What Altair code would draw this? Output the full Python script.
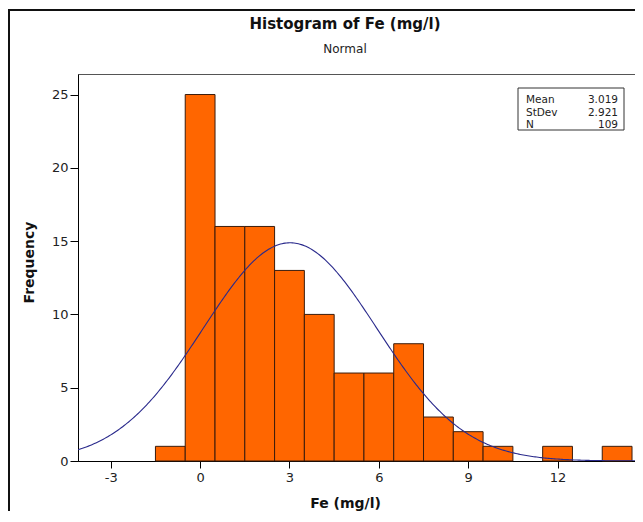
import altair as alt
import pandas as pd

# ---- data ----
bin_centers = [-1, 0, 1, 2, 3, 4, 5, 6, 7, 8, 9, 10, 12, 14]
counts = [1, 25, 16, 16, 13, 10, 6, 6, 8, 3, 2, 1, 1, 1]
bin_width = 1.0
mean_val = 3.019
sd_val = 2.921
n_val = 109
stat_labels = ["Mean", "StDev", "N"]
stat_values = ["3.019", "2.921", "109"]
x_ticks = [-3, 0, 3, 6, 9, 12]
y_ticks = [0, 5, 10, 15, 20, 25]
x_domain = [-4.1, 14.6]
y_domain = [0, 26.4]

FONT = "DejaVu Sans"
W, H = 557, 387

bars_df = pd.DataFrame({
    "start": [c - bin_width / 2 for c in bin_centers],
    "end": [c + bin_width / 2 for c in bin_centers],
    "count": counts,
})

xs = alt.Scale(domain=x_domain, nice=False, zero=False)
ys = alt.Scale(domain=y_domain, nice=False)

x_axis = alt.Axis(values=x_ticks, title="Fe (mg/l)", grid=False, tickSize=7,
                  labelExpr="'' + datum.value",
                  labelPadding=3, labelFontSize=13, labelFont=FONT, labelColor="#222",
                  titleFont=FONT, titleFontSize=14, titleFontWeight="bold", titleColor="#111",
                  titleX=267, titleY=46, titleBaseline="alphabetic", titleAnchor="middle",
                  domainColor="#000", tickColor="#000", labelFlush=False)
y_axis = alt.Axis(values=y_ticks, title="Frequency", grid=False, tickSize=8,
                  labelPadding=2, labelFontSize=13, labelFont=FONT, labelColor="#222",
                  titleFont=FONT, titleFontSize=14, titleFontWeight="bold", titleColor="#111",
                  titleX=-45, titleY=188, titleBaseline="alphabetic", titleAnchor="middle",
                  domainColor="#000", tickColor="#000")

bars = alt.Chart(bars_df).mark_rect(color="#FF6600", stroke="#3a1c0c", strokeWidth=1).encode(
    x=alt.X("start:Q", scale=xs, axis=x_axis),
    x2="end:Q",
    y=alt.Y("count:Q", scale=ys, axis=y_axis),
    y2=alt.datum(0),
)

curve = alt.Chart(alt.sequence(x_domain[0], x_domain[1] + 0.05, 0.05, as_="x")).transform_calculate(
    y=f"{n_val}*{bin_width}*exp(-0.5*pow((datum.x-{mean_val})/{sd_val},2))/({sd_val}*sqrt(2*PI))"
).mark_line(color="#2a2a8c", strokeWidth=1.1, clip=True).encode(
    x=alt.X("x:Q", scale=xs),
    y=alt.Y("y:Q", scale=ys),
)

one = pd.DataFrame({"a": [0]})

legend_box = alt.Chart(one).mark_rect(fill="white", stroke="#333", strokeWidth=1).encode(
    x=alt.value(440), x2=alt.value(546), y=alt.value(14), y2=alt.value(56)
)
stats_df = pd.DataFrame({"lab": stat_labels, "val": stat_values, "row": [0, 1, 2]})
legend_lab = alt.Chart(stats_df).transform_calculate(
    py="29 + datum.row*12.5"
).mark_text(align="left", baseline="alphabetic", font=FONT, fontSize=10.5, color="#222").encode(
    x=alt.value(448), y=alt.Y("py:Q", scale=None), text="lab:N"
)
legend_val = alt.Chart(stats_df).transform_calculate(
    py="29 + datum.row*12.5"
).mark_text(align="right", baseline="alphabetic", font=FONT, fontSize=10.5, color="#222").encode(
    x=alt.value(540), y=alt.Y("py:Q", scale=None), text="val:N"
)

title_df = pd.DataFrame({"t": ["Histogram of Fe (mg/l)"], "s": ["Normal"]})
title = alt.Chart(title_df).mark_text(align="center", baseline="alphabetic", font=FONT,
                                      fontSize=15, fontWeight="bold", color="#111").encode(
    x=alt.value(267), y=alt.value(-45), text="t:N"
)
subtitle = alt.Chart(title_df).mark_text(align="center", baseline="alphabetic", font=FONT,
                                         fontSize=12, color="#222").encode(
    x=alt.value(267), y=alt.value(-21), text="s:N"
)

frame_left = alt.Chart(one).mark_rule(color="#111", strokeWidth=2).encode(
    x=alt.value(-69), y=alt.value(-64), y2=alt.value(460)
)
frame_top = alt.Chart(one).mark_rule(color="#111", strokeWidth=2).encode(
    x=alt.value(-70), x2=alt.value(600), y=alt.value(-64)
)

chart = alt.layer(
    bars, curve, legend_box, legend_lab, legend_val, title, subtitle, frame_left, frame_top
).properties(
    width=W, height=H,
    autosize=alt.AutoSizeParams(type="none"),
    padding={"left": 70, "top": 66, "right": 0, "bottom": 50},
    background="white",
).configure_view(stroke="#555", strokeWidth=1)

chart.save("out.html", embed_options={"renderer": "svg", "actions": False})
